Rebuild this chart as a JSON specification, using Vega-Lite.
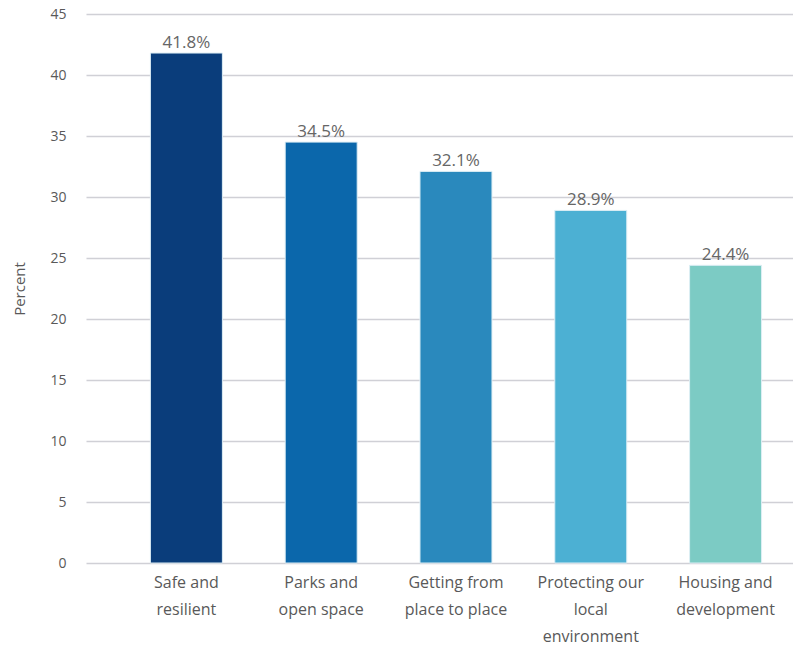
{
  "$schema": "https://vega.github.io/schema/vega-lite/v6.json",
  "width": 707,
  "height": 549,
  "autosize": {"type": "none"},
  "padding": {"left": 86, "top": 14, "right": 0, "bottom": 84},
  "background": "white",
  "config": {"view": {"stroke": null}, "font": "Open Sans"},
  "data": {"values": [
    {"category": "Safe and resilient", "value": 41.8, "label": "41.8%", "color": "#0A3D7B"},
    {"category": "Parks and open space", "value": 34.5, "label": "34.5%", "color": "#0B67AB"},
    {"category": "Getting from place to place", "value": 32.1, "label": "32.1%", "color": "#2A89BD"},
    {"category": "Protecting our local environment", "value": 28.9, "label": "28.9%", "color": "#4CB0D3"},
    {"category": "Housing and development", "value": 24.4, "label": "24.4%", "color": "#7CCBC4"}
  ]},
  "encoding": {
    "x": {
      "field": "category", "type": "nominal", "sort": null,
      "scale": {"paddingInner": 0.466, "paddingOuter": 0.3555, "align": 0.672},
      "axis": {
        "title": null, "domain": false, "ticks": false, "labelAngle": 0,
        "labelPadding": 11, "labelFontSize": 16, "labelColor": "#595959",
        "labelLineHeight": 27, "labelBaseline": "top",
        "labelExpr": "datum.value == 'Safe and resilient' ? ['Safe and','resilient'] : datum.value == 'Parks and open space' ? ['Parks and','open space'] : datum.value == 'Getting from place to place' ? ['Getting from','place to place'] : datum.value == 'Protecting our local environment' ? ['Protecting our','local','environment'] : ['Housing and','development']"
      }
    },
    "y": {
      "field": "value", "type": "quantitative",
      "scale": {"domain": [0, 45], "nice": false},
      "axis": {
        "title": "Percent", "titleFontSize": 15, "titleFontWeight": "normal", "titleColor": "#595959",
        "titlePadding": 22,
        "values": [0, 5, 10, 15, 20, 25, 30, 35, 40, 45],
        "domain": false, "ticks": false, "labelPadding": 20, "labelFontSize": 14, "labelColor": "#595959",
        "gridColor": "#D0D0D6", "gridWidth": 1.5
      }
    }
  },
  "layer": [
    {
      "mark": {"type": "bar", "stroke": "#DDEEF5", "strokeWidth": 1},
      "encoding": {"color": {"field": "color", "type": "nominal", "scale": null, "legend": null}}
    },
    {
      "mark": {"type": "text", "baseline": "bottom", "dy": -1, "fontSize": 17, "color": "#666666"},
      "encoding": {"text": {"field": "label"}}
    }
  ]
}
